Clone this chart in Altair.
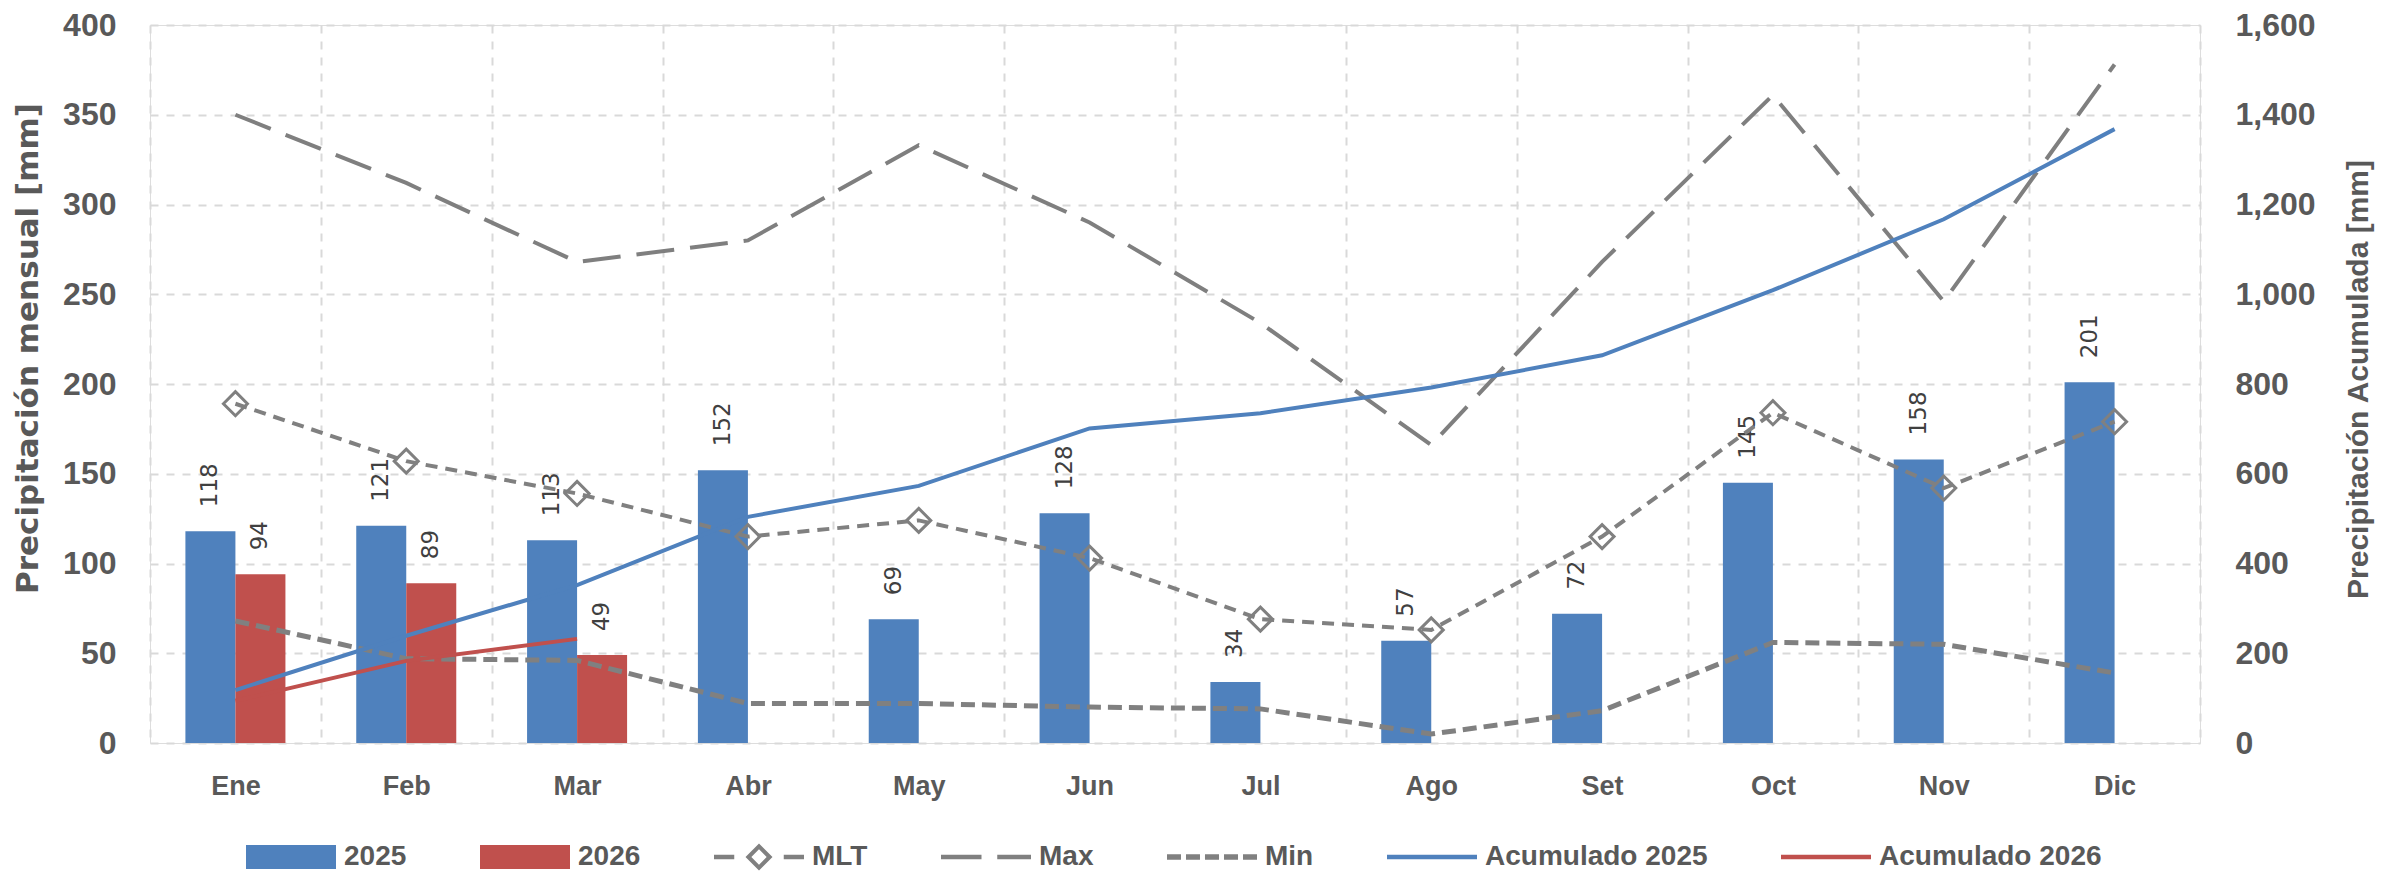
import altair as alt
import pandas as pd

months = ["Ene", "Feb", "Mar", "Abr", "May", "Jun", "Jul", "Ago", "Set", "Oct", "Nov", "Dic"]
p2025 = [118, 121, 113, 152, 69, 128, 34, 57, 72, 145, 158, 201]
p2026 = [94, 89, 49]
mlt = [189, 157, 139, 115, 124, 103, 69, 63, 115, 184, 142, 179]
pmax = [350, 312, 268, 280, 333, 290, 234, 166, 268, 361, 246, 378]
pmin = [68, 47, 46, 22, 22, 20, 19, 5, 18, 56, 55, 39]
acum2025 = [118, 239, 352, 504, 573, 701, 735, 792, 864, 1009, 1167, 1368]
acum2026 = [94, 183, 232]

legend_names = ["2025", "2026", "MLT", "Max", "Min", "Acumulado 2025", "Acumulado 2026"]
legend_colors = ["#4f81bd", "#c0504d", "#808080", "#808080", "#808080", "#4f81bd", "#c0504d"]
legend_shapes = [
    "M-1,-0.267H1V0.267H-1Z",
    "M-1,-0.267H1V0.267H-1Z",
    "M-1,-0.05H-0.55V0.05H-1Z M0.55,-0.05H1V0.05H0.55Z M0,-0.3L0.3,0L0,0.3L-0.3,0Z M0,-0.17L-0.17,0L0,0.17L0.17,0Z",
    "M-1,-0.05H-0.1V0.05H-1Z M0.25,-0.05H1V0.05H0.25Z",
    "M-1,-0.06H-0.689V0.06H-1Z M-0.578,-0.06H-0.267V0.06H-0.578Z M-0.156,-0.06H0.156V0.06H-0.156Z M0.267,-0.06H0.578V0.06H0.267Z M0.689,-0.06H1V0.06H0.689Z",
    "M-1,-0.05H1V0.05H-1Z",
    "M-1,-0.05H1V0.05H-1Z",
]

bars_df = pd.DataFrame(
    [{"mes": m, "serie": "2025", "valor": v} for m, v in zip(months, p2025)]
    + [{"mes": m, "serie": "2026", "valor": v} for m, v in zip(months, p2026)]
)
mlt_df = pd.DataFrame({"mes": months, "valor": mlt})
max_df = pd.DataFrame({"mes": months, "valor": pmax})
min_df = pd.DataFrame({"mes": months, "valor": pmin})
ac25_df = pd.DataFrame({"mes": months, "valor": acum2025})
ac26_df = pd.DataFrame({"mes": months[:3], "valor": acum2026})
leg_df = pd.DataFrame({"serie": legend_names, "valor": [-100] * len(legend_names)})

GRAY = "#595959"
TICK_FONT = "Liberation Sans"
PLOT_H = 718

x_axis = alt.Axis(
    tickBand="extent", grid=True, gridDash=[8, 8], gridColor="#d9d9d9", gridWidth=2,
    ticks=False, domain=False, labelAngle=0, labelFont=TICK_FONT, labelFontSize=27,
    labelFontWeight="bold", labelColor=GRAY, labelPadding=30, title=None,
)
X = alt.X("mes:N", sort=months, scale=alt.Scale(domain=months, paddingInner=0, paddingOuter=0), axis=x_axis)

left_axis = alt.Axis(
    values=list(range(0, 401, 50)), ticks=False, domain=False, grid=True,
    gridDash=[8, 8], gridColor="#d9d9d9", gridWidth=2,
    labelFont=TICK_FONT, labelFontSize=32, labelFontWeight="bold", labelColor=GRAY, labelPadding=34,
    title="Precipitación mensual [mm]", titleFont="DejaVu Sans", titleFontSize=31,
    titleFontWeight="bold", titleColor=GRAY, titleX=-122, titleY=323, titleAngle=270,
    titleAlign="center", titleBaseline="middle",
)
Y = alt.Y("valor:Q", scale=alt.Scale(domain=[0, 400], nice=False, zero=True), axis=left_axis)

right_axis = alt.Axis(
    orient="right", values=list(range(0, 1601, 200)), format=",.0f", ticks=False, domain=False, grid=False,
    labelFont=TICK_FONT, labelFontSize=32, labelFontWeight="bold", labelColor=GRAY, labelPadding=35,
    title="Precipitación Acumulada [mm]", titleFont="Liberation Sans", titleFontSize=30,
    titleFontWeight="bold", titleColor=GRAY, titleX=158, titleY=354, titleAngle=270,
    titleAlign="center", titleBaseline="middle",
)
Y2 = alt.Y("valor:Q", scale=alt.Scale(domain=[0, 1600], nice=False, zero=True), axis=right_axis)

xoff = alt.XOffset("serie:N", scale=alt.Scale(domain=["2025", "2026"], paddingInner=0, paddingOuter=0.708))

bars25 = alt.Chart(bars_df).transform_filter(alt.datum.serie == "2025").mark_bar(color="#4f81bd").encode(
    x=X, xOffset=xoff, y=Y
)
bars26 = alt.Chart(bars_df).transform_filter(alt.datum.serie == "2026").mark_bar(color="#c0504d").encode(
    x=X, xOffset=xoff, y=Y
)
labels = alt.Chart(bars_df).mark_text(
    angle=270, align="left", baseline="middle", dx=24, font="DejaVu Sans", fontSize=23, color="#404040"
).encode(x=X, xOffset=xoff, y=Y, text=alt.Text("valor:Q"))

mlt_line = alt.Chart(mlt_df).mark_line(color="#808080", strokeWidth=4, strokeDash=[12, 8]).encode(x=X, y=Y)
mlt_pts = alt.Chart(mlt_df).mark_point(
    shape="diamond", size=576, filled=False, strokeWidth=3, color="#808080", opacity=1
).encode(x=X, y=Y)
max_line = alt.Chart(max_df).mark_line(color="#7f7f7f", strokeWidth=4, strokeDash=[38, 16]).encode(x=X, y=Y)
min_line = alt.Chart(min_df).mark_line(color="#808080", strokeWidth=5, strokeDash=[14, 7]).encode(x=X, y=Y)

leg = alt.Legend(
    orient="none", legendX=96, legendY=787, direction="horizontal", columns=7,
    symbolSize=8100, symbolStrokeWidth=0, symbolOpacity=1, labelFont=TICK_FONT,
    labelFontSize=28, labelFontWeight="bold", labelColor=GRAY, labelOffset=8, labelLimit=0,
    columnPadding=73, title=None, padding=0,
)
legend_layer = alt.Chart(leg_df).mark_point(filled=True, clip=True, size=10).encode(
    y=Y,
    color=alt.Color("serie:N", scale=alt.Scale(domain=legend_names, range=legend_colors), legend=leg),
    shape=alt.Shape("serie:N", scale=alt.Scale(domain=legend_names, range=legend_shapes), legend=leg),
)

left = alt.layer(bars25, bars26, labels, min_line, max_line, mlt_line, mlt_pts, legend_layer)

ac25_line = alt.Chart(ac25_df).mark_line(color="#4f81bd", strokeWidth=4).encode(x=X, y=Y2)
ac26_line = alt.Chart(ac26_df).mark_line(color="#c0504d", strokeWidth=4).encode(x=X, y=Y2)
right = alt.layer(ac25_line, ac26_line)

chart = alt.layer(left, right).resolve_scale(y="independent").properties(
    width=2050, height=PLOT_H,
    padding={"left": 142, "top": 17, "right": 190, "bottom": 134},
    autosize=alt.AutoSizeParams(type="none"),
).configure_view(fill="#f2f2f2", stroke="black", strokeWidth=3).configure(background="white")

chart.save("out.html", embed_options={"renderer": "svg", "actions": False})
